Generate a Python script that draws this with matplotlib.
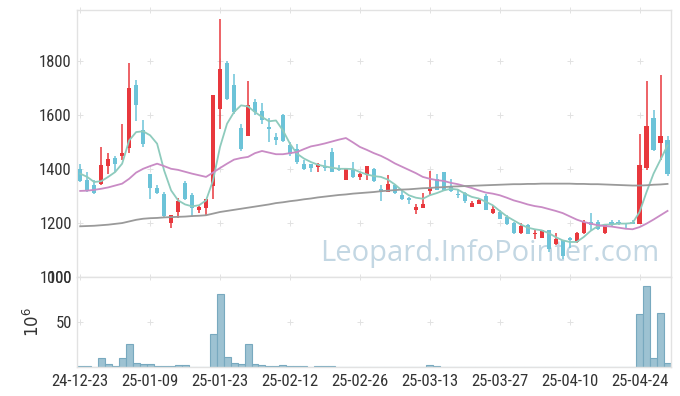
import numpy as np
import matplotlib
matplotlib.use('Agg')
import matplotlib.pyplot as plt

plt.rcParams['font.family'] = ['DejaVu Sans Condensed', 'Liberation Sans Narrow',
                               'Roboto Condensed', 'Liberation Sans', 'DejaVu Sans']

# ---- data ----
opens = [1402, 1359, 1341, 1347, 1412, 1441, 1449, 1479, 1711, 1544,
         1381, 1332, 1307, 1201, 1242, 1349, 1304, 1248, 1257, 1338,
         1623, 1794, 1711, 1554, 1523, 1648, 1615, 1557, 1520, 1600,
         1491, 1477, 1419, 1419, 1409, 1409, 1464, 1405, 1362, 1399,
         1372, 1378, 1402, 1326, 1316, 1341, 1304, 1294, 1248, 1257,
         1319, 1365, 1389, 1337, 1310, 1314, 1260, 1273, 1300, 1238,
         1242, 1223, 1201, 1164, 1193, 1160, 1147, 1174, 1122, 1140,
         1147, 1131, 1165, 1204, 1205, 1164, 1206, 1205, 1201, 1204,
         1199, 1405, 1591, 1498, 1507]
highs = [1421, 1390, 1359, 1483, 1462, 1448, 1569, 1795, 1730, 1581,
         1381, 1341, 1316, 1230, 1295, 1356, 1312, 1263, 1289, 1674,
         1958, 1800, 1754, 1569, 1726, 1662, 1647, 1591, 1536, 1606,
         1501, 1495, 1433, 1419, 1423, 1436, 1480, 1415, 1402, 1427,
         1386, 1414, 1406, 1341, 1380, 1347, 1328, 1298, 1273, 1312,
         1393, 1381, 1391, 1365, 1322, 1316, 1283, 1291, 1310, 1263,
         1248, 1230, 1205, 1201, 1199, 1177, 1177, 1174, 1164, 1140,
         1149, 1168, 1211, 1238, 1214, 1199, 1214, 1214, 1201, 1211,
         1532, 1727, 1621, 1748, 1522]
lows = [1353, 1316, 1307, 1341, 1384, 1390, 1436, 1462, 1579, 1483,
        1291, 1310, 1223, 1184, 1221, 1288, 1223, 1240, 1230, 1291,
        1551, 1658, 1606, 1468, 1523, 1600, 1569, 1501, 1491, 1501,
        1448, 1421, 1396, 1390, 1390, 1394, 1390, 1394, 1359, 1369,
        1362, 1362, 1354, 1283, 1316, 1310, 1288, 1273, 1236, 1257,
        1304, 1322, 1322, 1316, 1295, 1275, 1260, 1270, 1248, 1236,
        1216, 1193, 1162, 1162, 1159, 1143, 1146, 1094, 1119, 1069,
        1110, 1127, 1159, 1177, 1174, 1162, 1190, 1193, 1184, 1196,
        1199, 1399, 1468, 1436, 1374]
closes = [1357, 1325, 1312, 1415, 1437, 1419, 1459, 1700, 1637, 1493,
          1331, 1312, 1226, 1230, 1281, 1291, 1258, 1260, 1289, 1674,
          1770, 1660, 1612, 1477, 1640, 1612, 1581, 1551, 1510, 1505,
          1458, 1427, 1400, 1406, 1419, 1406, 1390, 1399, 1400, 1372,
          1381, 1411, 1357, 1316, 1347, 1312, 1290, 1288, 1260, 1270,
          1331, 1325, 1322, 1320, 1306, 1283, 1274, 1285, 1251, 1254,
          1217, 1196, 1164, 1189, 1162, 1164, 1174, 1106, 1141, 1078,
          1137, 1165, 1205, 1193, 1180, 1195, 1196, 1196, 1196, 1199,
          1415, 1559, 1473, 1522, 1384]
volume = [1, 1, 0.3, 9.6, 3, 1, 9.6, 26, 5, 3,
          3, 1, 1, 1, 2, 2, 0.3, 0.3, 0.3, 37,
          81, 10.7, 5, 3, 25.5, 3, 2, 1, 1, 2,
          1, 1, 1, 0.3, 1, 1, 1, 0.3, 0.3, 0.3,
          0.3, 0.3, 0.3, 0.3, 0.3, 0.3, 0.3, 0.3, 0.3, 0.3,
          2, 1, 0.3, 0.3, 0.3, 0.3, 0.3, 0.3, 0.3, 0.3,
          0.3, 0.3, 0.3, 0.3, 0.3, 0.3, 0.3, 0.3, 0.3, 0.3,
          0.3, 0.3, 0.3, 0.3, 0.3, 0.3, 0.3, 0.3, 0.3, 0.3,
          59, 90, 9.6, 60, 4]
ma_short = [1384, 1372, 1353, 1356, 1372, 1390, 1421, 1507, 1538, 1541,
            1526, 1495, 1396, 1322, 1285, 1270, 1263, 1267, 1285, 1359,
            1483, 1569, 1612, 1637, 1633, 1612, 1594, 1578, 1581, 1544,
            1495, 1458, 1440, 1427, 1417, 1411, 1406, 1402, 1402, 1401,
            1390, 1381, 1375, 1372, 1362, 1344, 1322, 1304, 1295, 1291,
            1304, 1312, 1322, 1328, 1325, 1310, 1298, 1292, 1280, 1267,
            1246, 1226, 1211, 1196, 1184, 1178, 1174, 1164, 1149, 1137,
            1131, 1131, 1149, 1172, 1189, 1195, 1196, 1199, 1199, 1201,
            1242, 1316, 1384, 1436, 1489]
ma_mid = [1320, 1321, 1324, 1328, 1333, 1340, 1347, 1365, 1388, 1402,
          1412, 1421, 1412, 1402, 1398, 1391, 1384, 1378, 1372, 1388,
          1405, 1421, 1436, 1442, 1446, 1460, 1468, 1462, 1456, 1456,
          1460, 1464, 1475, 1485, 1490, 1496, 1503, 1510, 1516, 1500,
          1483, 1472, 1460, 1450, 1437, 1422, 1410, 1398, 1386, 1372,
          1365, 1360, 1357, 1350, 1345, 1338, 1331, 1322, 1314, 1310,
          1304, 1295, 1285, 1278, 1270, 1264, 1260, 1253, 1246, 1238,
          1226, 1214, 1205, 1199, 1193, 1190, 1188, 1184, 1180, 1178,
          1186, 1199, 1214, 1230, 1246]
ma_long = [1189, 1190, 1191, 1193, 1195, 1198, 1201, 1207, 1213, 1217,
           1219, 1220, 1222, 1223, 1224, 1225, 1227, 1228, 1230, 1236,
           1242, 1246, 1250, 1254, 1258, 1262, 1266, 1270, 1275, 1278,
           1282, 1285, 1289, 1292, 1296, 1299, 1302, 1305, 1307, 1310,
           1312, 1314, 1316, 1319, 1321, 1323, 1325, 1326, 1328, 1330,
           1331, 1333, 1334, 1336, 1337, 1338, 1339, 1340, 1341, 1342,
           1343, 1344, 1345, 1345, 1346, 1346, 1347, 1347, 1347, 1347,
           1347, 1346, 1346, 1345, 1345, 1344, 1343, 1342, 1341, 1340,
           1340, 1341, 1343, 1344, 1346]
date_labels = ['24-12-23', '25-01-09', '25-01-23', '25-02-12', '25-02-26',
               '25-03-13', '25-03-27', '25-04-10', '25-04-24']
price_ticks = [1000, 1200, 1400, 1600, 1800]
vol_ticks = [50, 100]

UP, DOWN = '#e8383d', '#6cc3d8'
GRIDC = '#e2e2e2'

x = np.arange(len(closes))
o, h, l, c = map(np.array, (opens, highs, lows, closes))
col = np.where(c >= o, UP, DOWN)
tick_pos = x[::10]

fig = plt.figure(figsize=(6.8, 3.96), dpi=100)
ax = fig.add_axes([0.1128, 0.2997, 0.8740, 0.6742])
ax2 = fig.add_axes([0.1128, 0.0732, 0.8740, 0.2265], sharex=ax)

for a in (ax, ax2):
    for s in a.spines.values():
        s.set_color('#e2e2e2')
        s.set_linewidth(1)
    a.tick_params(length=0, colors='#333333', labelsize=12)

# price panel
ax.vlines(x, l, h, color=col, linewidth=1.1, zorder=2)
ax.bar(x, np.maximum(np.abs(c - o), 2), bottom=np.minimum(o, c), width=0.6,
       color=col, linewidth=0, zorder=3)
ax.plot(x, ma_short, color='#8ecbbd', linewidth=1.3, zorder=4)
ax.plot(x, ma_mid, color='#c98bc5', linewidth=1.3, zorder=4)
ax.plot(x, ma_long, color='#9a9a9a', linewidth=1.3, zorder=4)
ax.set_xlim(-0.5, 84.5)
ax.set_ylim(1000, 1989)
ax.set_yticks(price_ticks)
ax.tick_params(axis='x', labelbottom=False)
gx, gy = np.meshgrid(tick_pos, price_ticks + [1989])
ax.scatter(gx.ravel(), gy.ravel(), marker='+', s=14, color=GRIDC,
           linewidths=0.7, zorder=0, clip_on=False)
ax.text(0.695, 0.09, 'Leopard.InfoPointer.com', transform=ax.transAxes,
        ha='center', va='center', fontsize=21, color='#c3d7e3',
        family=['Open Sans', 'DejaVu Sans'], zorder=1)

# volume panel
ax2.bar(x, volume, width=1.0, color='#9dc2d2', edgecolor='#78a9bf',
        linewidth=0.8, zorder=2)
ax2.set_ylim(0, 100)
ax2.set_yticks(vol_ticks)
ax2.set_xticks(tick_pos)
ax2.set_xticklabels(date_labels)
ax2.tick_params(axis='x', pad=5)
ax2.set_ylabel('$10^6$', fontsize=12, color='#333333')
ax2.yaxis.set_label_coords(-0.058, 0.5)
gx, gy = np.meshgrid(tick_pos, vol_ticks)
ax2.scatter(gx.ravel(), gy.ravel(), marker='+', s=14, color=GRIDC,
            linewidths=0.7, zorder=0)

fig.savefig('out.png', dpi=100)
